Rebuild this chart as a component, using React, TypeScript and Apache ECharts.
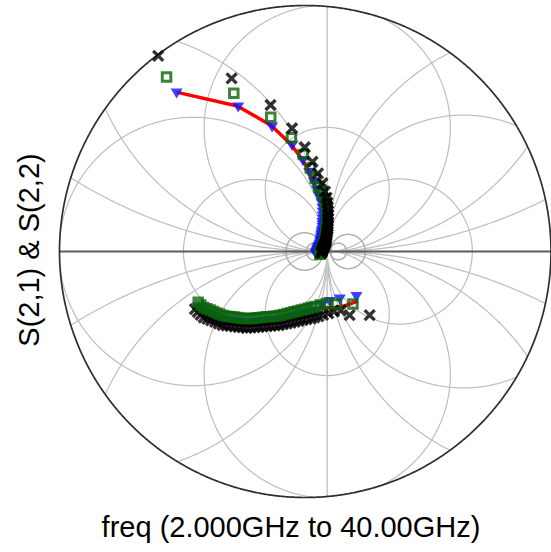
import React, { useEffect, useRef } from "react";
import * as echarts from "echarts";

// Reflection-plane coordinates (real, imag); outer boundary of the chart
const R_MAX = 11.18;

// Grid: constant-reactance circles (centre (1, ±k), radius k)
const REACTANCE_K = [2.82, 5.6, 11.1, 22];
// Grid: constant-resistance circles tangent at Γ = 1 (left side / right side radii)
const RESIST_LEFT_RHO = [3.27, 6.1, 10.1];
const RESIST_RIGHT_RHO = [3.3, 6.2, 10.1];
// Small circles around Γ = 1: [cx, cy, r]
const SMALL_CIRCLES: [number, number, number][] = [
  [-0.03, 0, 0.85],
  [1.95, 0, 0.78],
  [0.45, 0, 0.4],
  [1.5, 0, 0.38],
];

// Sweep 2 GHz .. 40 GHz, 1 GHz step — S(2,1)
const S21_BLACK: [number, number][] = [
  [-6.69, 8.89], [-3.35, 7.87], [-1.58, 6.66], [-0.6, 5.6], [-0.02, 4.74], [0.33, 4.08], [0.58, 3.55], [0.78, 3.1], [0.9, 2.72],
  [0.97, 2.45], [1.01, 2.22], [1.03, 2.01], [1.04, 1.83], [1.04, 1.66], [1.04, 1.51], [1.03, 1.37], [1.03, 1.25], [1.03, 1.14], [1.02, 1.03],
  [1.0, 0.94], [0.99, 0.85], [0.98, 0.77], [0.97, 0.7], [0.96, 0.62], [0.95, 0.55], [0.94, 0.49], [0.93, 0.43], [0.91, 0.38], [0.89, 0.33],
  [0.87, 0.28], [0.85, 0.24], [0.83, 0.19], [0.81, 0.15], [0.8, 0.11], [0.78, 0.07], [0.77, 0.03], [0.75, 0.0], [0.74, -0.04], [0.73, -0.07],
];
const S21_GREEN: [number, number][] = [
  [-6.31, 7.93], [-3.25, 7.19], [-1.57, 6.1], [-0.63, 5.17], [-0.09, 4.41], [0.23, 3.8], [0.45, 3.32], [0.61, 2.93], [0.76, 2.63],
  [0.91, 2.4], [0.95, 2.17], [0.97, 1.96], [0.98, 1.78], [0.98, 1.61], [0.98, 1.46], [0.97, 1.32], [0.97, 1.2], [0.97, 1.09], [0.96, 0.98],
  [0.94, 0.89], [0.93, 0.8], [0.92, 0.72], [0.91, 0.65], [0.9, 0.57], [0.89, 0.5], [0.88, 0.44], [0.87, 0.38], [0.85, 0.33], [0.83, 0.28],
  [0.81, 0.23], [0.79, 0.19], [0.77, 0.14], [0.75, 0.1], [0.74, 0.06], [0.72, 0.02], [0.71, -0.02], [0.69, -0.05], [0.68, -0.09], [0.67, -0.12],
];
const S21_BLUE: [number, number][] = [
  [-5.85, 7.18], [-3.05, 6.55], [-1.51, 5.64], [-0.6, 4.8], [-0.11, 4.11], [0.18, 3.57], [0.39, 3.14], [0.52, 2.77], [0.63, 2.48],
  [0.72, 2.38], [0.76, 2.15], [0.78, 1.94], [0.79, 1.76], [0.79, 1.59], [0.79, 1.44], [0.78, 1.3], [0.78, 1.18], [0.78, 1.07], [0.77, 0.96],
  [0.75, 0.87], [0.74, 0.78], [0.73, 0.7], [0.72, 0.63], [0.71, 0.55], [0.7, 0.48], [0.69, 0.42], [0.68, 0.36], [0.66, 0.31], [0.64, 0.26],
  [0.62, 0.21], [0.6, 0.17], [0.58, 0.12], [0.56, 0.08], [0.55, 0.04], [0.53, 0.0], [0.52, -0.04], [0.5, -0.07], [0.49, -0.11], [0.48, -0.14],
];
const S21_RED: [number, number][] = [
  [-5.82, 7.23], [-3.09, 6.61], [-1.55, 5.73], [-0.64, 4.86], [-0.14, 4.18], [0.16, 3.64], [0.36, 3.2], [0.5, 2.84], [0.61, 2.55],
  [0.75, 2.43], [0.79, 2.2], [0.81, 1.99], [0.82, 1.81], [0.82, 1.64], [0.82, 1.49], [0.81, 1.35], [0.81, 1.23], [0.81, 1.12], [0.8, 1.01],
  [0.78, 0.92], [0.77, 0.83], [0.76, 0.75], [0.75, 0.68], [0.74, 0.6], [0.73, 0.53], [0.72, 0.47], [0.71, 0.41], [0.69, 0.36], [0.67, 0.31],
  [0.65, 0.26], [0.63, 0.22], [0.61, 0.17], [0.59, 0.13], [0.58, 0.09], [0.56, 0.05], [0.55, 0.01], [0.53, -0.02], [0.52, -0.06], [0.51, -0.09],
];

// Same sweep — S(2,2)
const S22_BLACK: [number, number][] = [
  [2.93, -2.89], [2.02, -2.89], [1.62, -2.68], [1.31, -2.73], [1.05, -2.81], [0.81, -2.88], [0.6, -2.95], [0.42, -3.0], [0.25, -3.05],
  [0.06, -3.08], [-0.12, -3.12], [-0.3, -3.16], [-0.48, -3.2], [-0.66, -3.24], [-0.84, -3.27], [-1.02, -3.31], [-1.2, -3.35], [-1.38, -3.36],
  [-1.57, -3.38], [-1.75, -3.4], [-1.94, -3.41], [-2.12, -3.43], [-2.3, -3.45], [-2.49, -3.46], [-2.67, -3.48], [-2.85, -3.45], [-3.03, -3.43],
  [-3.21, -3.41], [-3.4, -3.39], [-3.58, -3.36], [-3.76, -3.34], [-3.93, -3.27], [-4.1, -3.2], [-4.28, -3.13], [-4.45, -3.06], [-4.62, -3.0],
  [-4.76, -2.88], [-4.89, -2.75], [-5.02, -2.62],
];
const S22_GREEN: [number, number][] = [
  [2.17, -2.39], [1.42, -2.39], [0.96, -2.36], [0.68, -2.43], [0.45, -2.5], [0.3, -2.54], [0.14, -2.58], [-0.02, -2.62], [-0.18, -2.66],
  [-0.34, -2.7], [-0.5, -2.74], [-0.65, -2.78], [-0.81, -2.82], [-0.97, -2.86], [-1.13, -2.9], [-1.29, -2.93], [-1.45, -2.94], [-1.61, -2.96],
  [-1.78, -2.97], [-1.94, -2.99], [-2.1, -3.01], [-2.27, -3.02], [-2.43, -3.04], [-2.59, -3.05], [-2.75, -3.05], [-2.92, -3.03], [-3.08, -3.0],
  [-3.24, -2.98], [-3.4, -2.96], [-3.56, -2.94], [-3.73, -2.91], [-3.88, -2.85], [-4.03, -2.79], [-4.18, -2.73], [-4.33, -2.66], [-4.48, -2.6],
  [-4.63, -2.54], [-4.75, -2.43], [-4.87, -2.31],
];
const S22_BLUE: [number, number][] = [
  [2.33, -2.07], [1.57, -2.18], [1.11, -2.3], [0.77, -2.45], [0.43, -2.73], [0.28, -2.77], [0.12, -2.81], [-0.04, -2.85], [-0.2, -2.89],
  [-0.36, -2.93], [-0.52, -2.97], [-0.67, -3.01], [-0.83, -3.05], [-0.99, -3.09], [-1.15, -3.13], [-1.31, -3.16], [-1.47, -3.17], [-1.63, -3.19],
  [-1.8, -3.2], [-1.96, -3.22], [-2.12, -3.24], [-2.29, -3.25], [-2.45, -3.27], [-2.61, -3.28], [-2.77, -3.28], [-2.94, -3.26], [-3.1, -3.23],
  [-3.26, -3.21], [-3.42, -3.19], [-3.58, -3.17], [-3.75, -3.14], [-3.9, -3.08], [-4.05, -3.02], [-4.2, -2.96], [-4.35, -2.89], [-4.5, -2.83],
  [-4.65, -2.77], [-4.77, -2.66], [-4.89, -2.54],
];
const S22_RED: [number, number][] = [
  [2.39, -2.25], [1.75, -2.48], [1.25, -2.57], [0.73, -2.55], [0.39, -2.83], [0.24, -2.87], [0.08, -2.91], [-0.08, -2.95], [-0.24, -2.99],
  [-0.4, -3.03], [-0.56, -3.07], [-0.71, -3.11], [-0.87, -3.15], [-1.03, -3.19], [-1.19, -3.23], [-1.35, -3.26], [-1.51, -3.27], [-1.67, -3.29],
  [-1.84, -3.3], [-2.0, -3.32], [-2.16, -3.34], [-2.33, -3.35], [-2.49, -3.37], [-2.65, -3.38], [-2.81, -3.38], [-2.98, -3.36], [-3.14, -3.33],
  [-3.3, -3.31], [-3.46, -3.29], [-3.62, -3.27], [-3.79, -3.24], [-3.94, -3.18], [-4.09, -3.12], [-4.24, -3.06], [-4.39, -2.99], [-4.54, -2.93],
  [-4.69, -2.87], [-4.81, -2.76], [-4.93, -2.64],
];

const X_TITLE = "freq (2.000GHz to 40.00GHz)";
const Y_TITLE = "S(2,1) & S(2,2)";

type Pt = [number, number];
type Arc = { pts: Pt[]; color: string; width: number };

// A circle cut to the part that lies inside |Γ| <= limit
function clippedCircle(cx: number, cy: number, r: number, color: string, width: number, limit: number): Arc[] {
  const N = 1440;
  const step = (2 * Math.PI) / N;
  const at = (t: number): Pt => [cx + r * Math.cos(t), cy + r * Math.sin(t)];
  const inside = (t: number) => {
    const [x, y] = at(t);
    return x * x + y * y <= limit * limit;
  };
  let start = -1;
  for (let i = 0; i < N; i++) {
    if (!inside(i * step)) {
      start = i;
      break;
    }
  }
  if (start < 0) {
    const pts: Pt[] = [];
    for (let i = 0; i <= N; i++) pts.push(at(i * step));
    return [{ pts, color, width }];
  }
  const edge = (a: number, b: number): Pt => {
    let lo = a;
    let hi = b;
    const ia = inside(a);
    for (let k = 0; k < 30; k++) {
      const m = (lo + hi) / 2;
      if (inside(m) === ia) lo = m;
      else hi = m;
    }
    return at(ia ? lo : hi);
  };
  const arcs: Arc[] = [];
  let cur: Pt[] | null = null;
  for (let i = start; i <= start + N; i++) {
    const t = i * step;
    const prev = (i - 1) * step;
    if (inside(t)) {
      if (!cur) cur = [edge(prev, t)];
      cur.push(at(t));
    } else if (cur) {
      cur.push(edge(prev, t));
      arcs.push({ pts: cur, color, width });
      cur = null;
    }
  }
  return arcs;
}

function buildGrid(): Arc[] {
  const grid: Arc[] = [];
  const gray = "#bebebe";
  const lim = R_MAX - 0.01;
  REACTANCE_K.forEach((k) => {
    grid.push(...clippedCircle(1, k, k, gray, 1.2, lim));
    grid.push(...clippedCircle(1, -k, k, gray, 1.2, lim));
  });
  RESIST_LEFT_RHO.forEach((rho) => grid.push(...clippedCircle(1 - rho, 0, rho, gray, 1.2, lim)));
  RESIST_RIGHT_RHO.forEach((rho) => grid.push(...clippedCircle(1 + rho, 0, rho, gray, 1.2, lim)));
  SMALL_CIRCLES.forEach(([cx, cy, r]) => grid.push(...clippedCircle(cx, cy, r, "#b0b0b0", 1.5, lim)));
  const v = Math.sqrt(R_MAX * R_MAX - 1);
  grid.push({ pts: [[1, -v], [1, v]], color: "#c8c8c8", width: 1.5 });
  grid.push({ pts: [[-R_MAX, 0], [R_MAX, 0]], color: "#5c5c5c", width: 1.8 });
  grid.push(...clippedCircle(0, 0, R_MAX, "#2e2e2e", 1.7, R_MAX + 1));
  return grid;
}

const FONT = "'Liberation Sans', Arial, Helvetica, sans-serif";

export default function App() {
  const ref = useRef<HTMLDivElement>(null);

  useEffect(() => {
    if (!ref.current) return;
    const chart = echarts.init(ref.current, undefined, { renderer: "svg" });
    const grid = buildGrid();

    const crossSymbol = "path://M0,0L10,10M10,0L0,10";
    const black = { color: "rgba(0,0,0,0)", borderColor: "#000000", borderWidth: 3.4 };
    const green = { color: "rgba(0,0,0,0)", borderColor: "#0a640a", borderWidth: 3 };
    const blue = { color: "#1010ff" };

    const scatter = (data: Pt[], symbol: string, size: number | number[], itemStyle: any, rotate = 0) => ({
      type: "scatter",
      data,
      symbol,
      symbolSize: size,
      symbolRotate: rotate,
      itemStyle,
      silent: true,
      z: 3,
    });
    const redLine = (data: Pt[]) => ({
      type: "line",
      data,
      showSymbol: false,
      symbol: "none",
      lineStyle: { color: "#ff0000", width: 3.5 },
      silent: true,
      z: 3,
    });

    chart.setOption({
      animation: false,
      grid: { left: 59.5, top: 5.5, width: 492, height: 492 },
      xAxis: { type: "value", min: -R_MAX, max: R_MAX, show: false },
      yAxis: { type: "value", min: -R_MAX, max: R_MAX, show: false },
      series: [
        {
          type: "custom",
          coordinateSystem: "cartesian2d",
          silent: true,
          z: 1,
          data: grid.map((_, i) => [0, 0, i]),
          renderItem: (params: any, api: any) => {
            const arc = grid[params.dataIndex];
            return {
              type: "polyline",
              shape: { points: arc.pts.map((p) => api.coord(p)) },
              style: { stroke: arc.color, lineWidth: arc.width, fill: "none" },
            };
          },
        },
        scatter(S21_BLUE, "triangle", [12, 10], blue, 180),
        scatter(S22_BLUE, "triangle", [12, 10], blue, 180),
        redLine(S21_RED),
        redLine(S22_RED),
        scatter(S21_GREEN, "rect", 8.5, green),
        scatter(S21_BLACK, crossSymbol, 10, black),
        scatter(S22_BLACK, crossSymbol, 10, black),
        scatter(S22_GREEN, "rect", 8.5, green),
      ],
      graphic: [
        {
          type: "text",
          x: 291,
          y: 527,
          silent: true,
          style: { text: X_TITLE, fontSize: 29, fontFamily: FONT, fill: "#000", align: "center", verticalAlign: "middle" },
        },
        {
          type: "text",
          x: 28.5,
          y: 250,
          rotation: Math.PI / 2,
          silent: true,
          style: { text: Y_TITLE, fontSize: 29, fontFamily: FONT, fill: "#000", align: "center", verticalAlign: "middle" },
        },
      ],
    });
    return () => chart.dispose();
  }, []);

  return (
    <div
      ref={ref}
      style={{ position: "fixed", left: 0, top: 0, width: 551, height: 552, background: "#ffffff" }}
    />
  );
}
